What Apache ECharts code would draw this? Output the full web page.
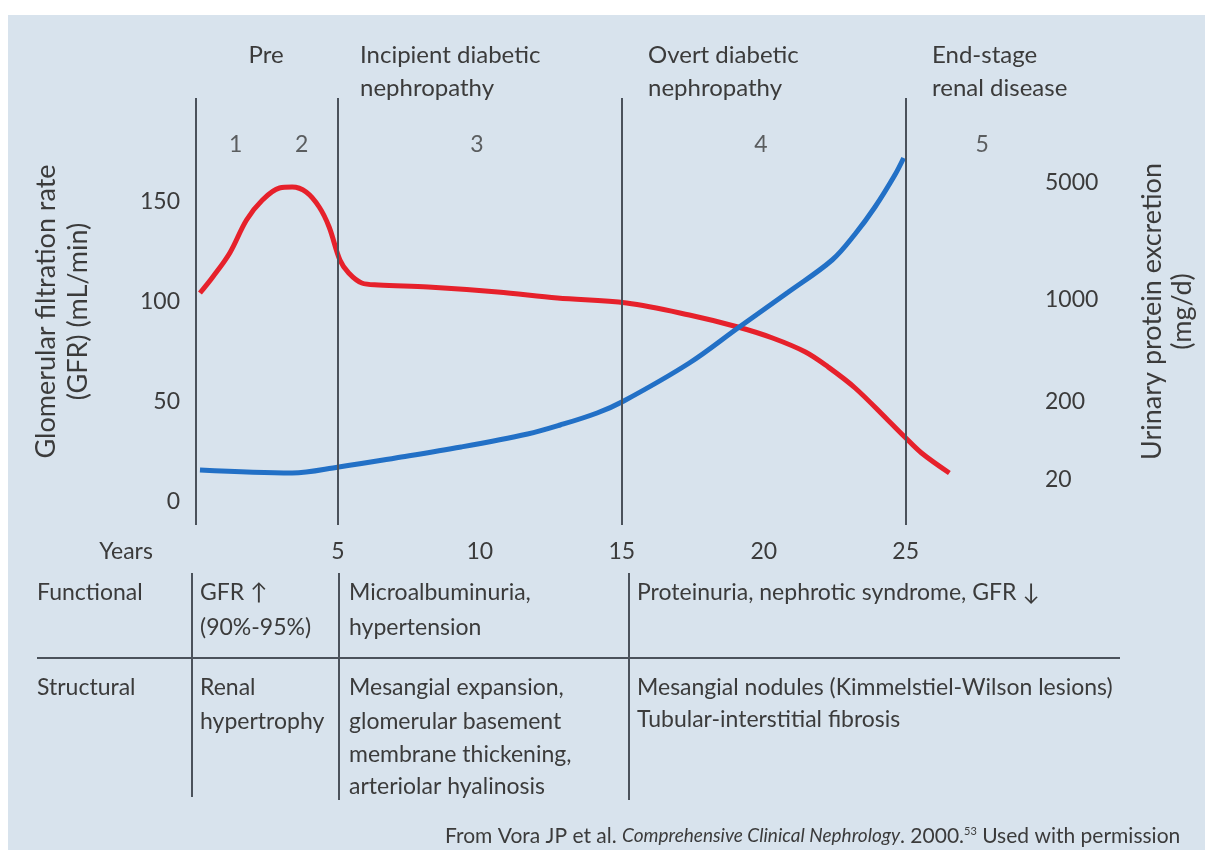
<!DOCTYPE html>
<html>
<head>
<meta charset="utf-8">
<script src="https://cdn.jsdelivr.net/npm/echarts@6/dist/echarts.min.js"></script>
<style>
html, body { margin: 0; padding: 0; background: #fff; }
#chart { width: 1205px; height: 850px; }
</style>
</head>
<body>
<div id="chart"></div>
<script>
// GFR curve: years since onset vs mL/min
const gfrYears = [0.14, 0.59, 1.19, 1.78, 2.34, 2.94, 3.39, 3.88, 4.34, 4.69, 5.07, 5.38, 5.84, 6.43, 8.18, 10.63, 12.73, 15.17, 17.38, 19.09, 20.31, 21.47, 22.27, 23.22, 24.37, 24.97, 25.56, 26.54];
const gfrValues = [104.5, 112.5, 124.5, 141, 151, 157, 157.5, 155, 147.5, 137.5, 121, 114.5, 109.5, 108.5, 107.5, 105, 102, 99.5, 93.5, 87.5, 82, 75, 67.5, 57, 41, 32.5, 24.5, 14.5];

// urinary protein curve, on the (schematic) right-hand scale
const proteinYears = [0.14, 3.39, 5.03, 7.03, 9.34, 11.68, 12.83, 14.13, 15.07, 17.38, 19.09, 20.87, 22.41, 23.22, 23.92, 24.62, 24.93];
const proteinLevel = [16, 14.5, 17.5, 22, 27.5, 34, 38.5, 44.5, 50.5, 69.5, 87, 105, 121, 134, 147.5, 163.5, 172];

// axis ticks
const yearTicks = [5, 10, 15, 20, 25];
const gfrTicks = [0, 50, 100, 150];
const proteinTickLabels = ['20', '200', '1000', '5000'];
const proteinTickAt = [11, 50, 101, 159.5];

// stages
const phaseBounds = [0, 5, 15, 25];
const stageLabels = ['1', '2', '3', '4', '5'];
const stageYears = [1.4, 3.72, 9.9, 19.9, 27.7];
const stageLevel = 178.5;

const FONT = 'Lato, "Noto Sans", sans-serif';
const TXT = '#3b3b3b';
const LINE = '#4b525b';

function txt(x, y, text, extra) {
	return {
		type: 'text', x: x, y: y, z: 10,
		style: Object.assign({ text: text, fill: TXT, font: '23px ' + FONT, textVerticalAlign: 'middle' }, extra || {}),
	};
}
function vline(x, y1, y2) {
	return { type: 'line', z: 10, shape: { x1: x, y1: y1, x2: x, y2: y2 }, style: { stroke: LINE, lineWidth: 2 } };
}

const chart = echarts.init(document.getElementById('chart'));
chart.setOption({
	animation: false,
	backgroundColor: '#d8e3ed',
	textStyle: { fontFamily: FONT },
	grid: { left: 196, right: 194, top: 98, bottom: 325 },
	xAxis: {
		type: 'value', min: 0, max: 28.5,
		axisLine: { show: false }, axisTick: { show: false }, splitLine: { show: false },
		axisLabel: { customValues: yearTicks, margin: 15, fontSize: 23, color: TXT },
	},
	yAxis: [
		{
			type: 'value', min: -11.5, max: 202,
			name: 'Glomerular filtration rate\n(GFR) (mL/min)',
			nameLocation: 'middle', nameGap: 102, nameRotate: 90,
			nameTextStyle: { fontSize: 27, lineHeight: 32, color: TXT },
			axisLine: { show: false }, axisTick: { show: false }, splitLine: { show: false },
			axisLabel: { customValues: gfrTicks, margin: 16, fontSize: 23, color: TXT },
		},
		{
			type: 'value', min: -11.5, max: 202, position: 'right',
			name: 'Urinary protein excretion\n(mg/d)',
			nameLocation: 'middle', nameGap: 132, nameRotate: 90,
			nameTextStyle: { fontSize: 27, lineHeight: 30, color: TXT },
			axisLine: { show: false }, axisTick: { show: false }, splitLine: { show: false },
			axisLabel: {
				customValues: proteinTickAt, margin: 40, fontSize: 23, color: TXT, align: 'left',
				formatter: (v) => proteinTickLabels[proteinTickAt.indexOf(v)] || '',
			},
		},
	],
	series: [
		{
			type: 'line', data: [], z: 1,
			markLine: {
				silent: true, symbol: ['none', 'none'], label: { show: false },
				lineStyle: { color: LINE, width: 2, type: 'solid' },
				data: phaseBounds.map((x) => ({ xAxis: x })),
			},
		},
		{
			type: 'line', z: 3,
			data: gfrYears.map((x, i) => [x, gfrValues[i]]),
			smooth: 0.35, symbol: 'none',
			lineStyle: { color: '#e6212b', width: 5 },
		},
		{
			type: 'line', z: 3, yAxisIndex: 1,
			data: proteinYears.map((x, i) => [x, proteinLevel[i]]),
			smooth: 0.35, symbol: 'none',
			lineStyle: { color: '#2270c6', width: 5 },
		},
		{
			type: 'scatter', symbolSize: 0, z: 4,
			data: stageYears.map((x, i) => [x, stageLevel, stageLabels[i]]),
			label: { show: true, position: 'inside', formatter: (p) => p.data[2], fontSize: 23, color: TXT },
		},
	],
	graphic: [
		{ type: 'rect', z: 20, shape: { x: 0, y: 0, width: 1205, height: 15 }, style: { fill: '#ffffff' } },
		{ type: 'rect', z: 20, shape: { x: 0, y: 0, width: 8, height: 850 }, style: { fill: '#ffffff' } },
		// stage headings
		txt(266, 55, 'Pre', { font: '24px ' + FONT, textAlign: 'center' }),
		txt(360, 55, 'Incipient diabetic', { font: '24px ' + FONT }),
		txt(360, 88, 'nephropathy', { font: '24px ' + FONT }),
		txt(648, 55, 'Overt diabetic', { font: '24px ' + FONT }),
		txt(648, 88, 'nephropathy', { font: '24px ' + FONT }),
		txt(932, 55, 'End-stage', { font: '24px ' + FONT }),
		txt(932, 88, 'renal disease', { font: '24px ' + FONT }),
		txt(126, 552, 'Years', { textAlign: 'center' }),
		// table
		vline(192, 573, 797),
		vline(339, 573, 800),
		vline(629, 573, 800),
		{ type: 'line', z: 10, shape: { x1: 37, y1: 658, x2: 1120, y2: 658 }, style: { stroke: LINE, lineWidth: 2 } },
		txt(37, 593, 'Functional'),
		txt(200, 593, 'GFR \u2191'),
		txt(200, 628, '(90%-95%)'),
		txt(349, 593, 'Microalbuminuria,'),
		txt(349, 628, 'hypertension'),
		txt(637, 593, 'Proteinuria, nephrotic syndrome, GFR \u2193'),
		txt(37, 688, 'Structural'),
		txt(200, 688, 'Renal'),
		txt(200, 722, 'hypertrophy'),
		txt(349, 688, 'Mesangial expansion,'),
		txt(349, 722, 'glomerular basement'),
		txt(349, 755, 'membrane thickening,'),
		txt(349, 787, 'arteriolar hyalinosis'),
		txt(637, 688, 'Mesangial nodules (Kimmelstiel-Wilson lesions)'),
		txt(637, 720, 'Tubular-interstitial fibrosis'),
		// source
		{
			type: 'text', x: 445, y: 836, z: 10,
			style: {
				text: '{n|From Vora JP et al. }{i|Comprehensive Clinical Nephrology}{n|. 2000.}{s|53}{n| Used with permission}',
				textVerticalAlign: 'middle',
				rich: {
					n: { fontSize: 21, fontFamily: FONT, fill: TXT, color: TXT },
					i: { fontSize: 19, fontFamily: FONT, fontStyle: 'italic', fill: TXT, color: TXT },
					s: { fontSize: 11, fontFamily: FONT, fill: TXT, color: TXT, verticalAlign: 'top', padding: [0, 0, 9, 0] },
				},
			},
		},
	],
});
</script>
</body>
</html>
